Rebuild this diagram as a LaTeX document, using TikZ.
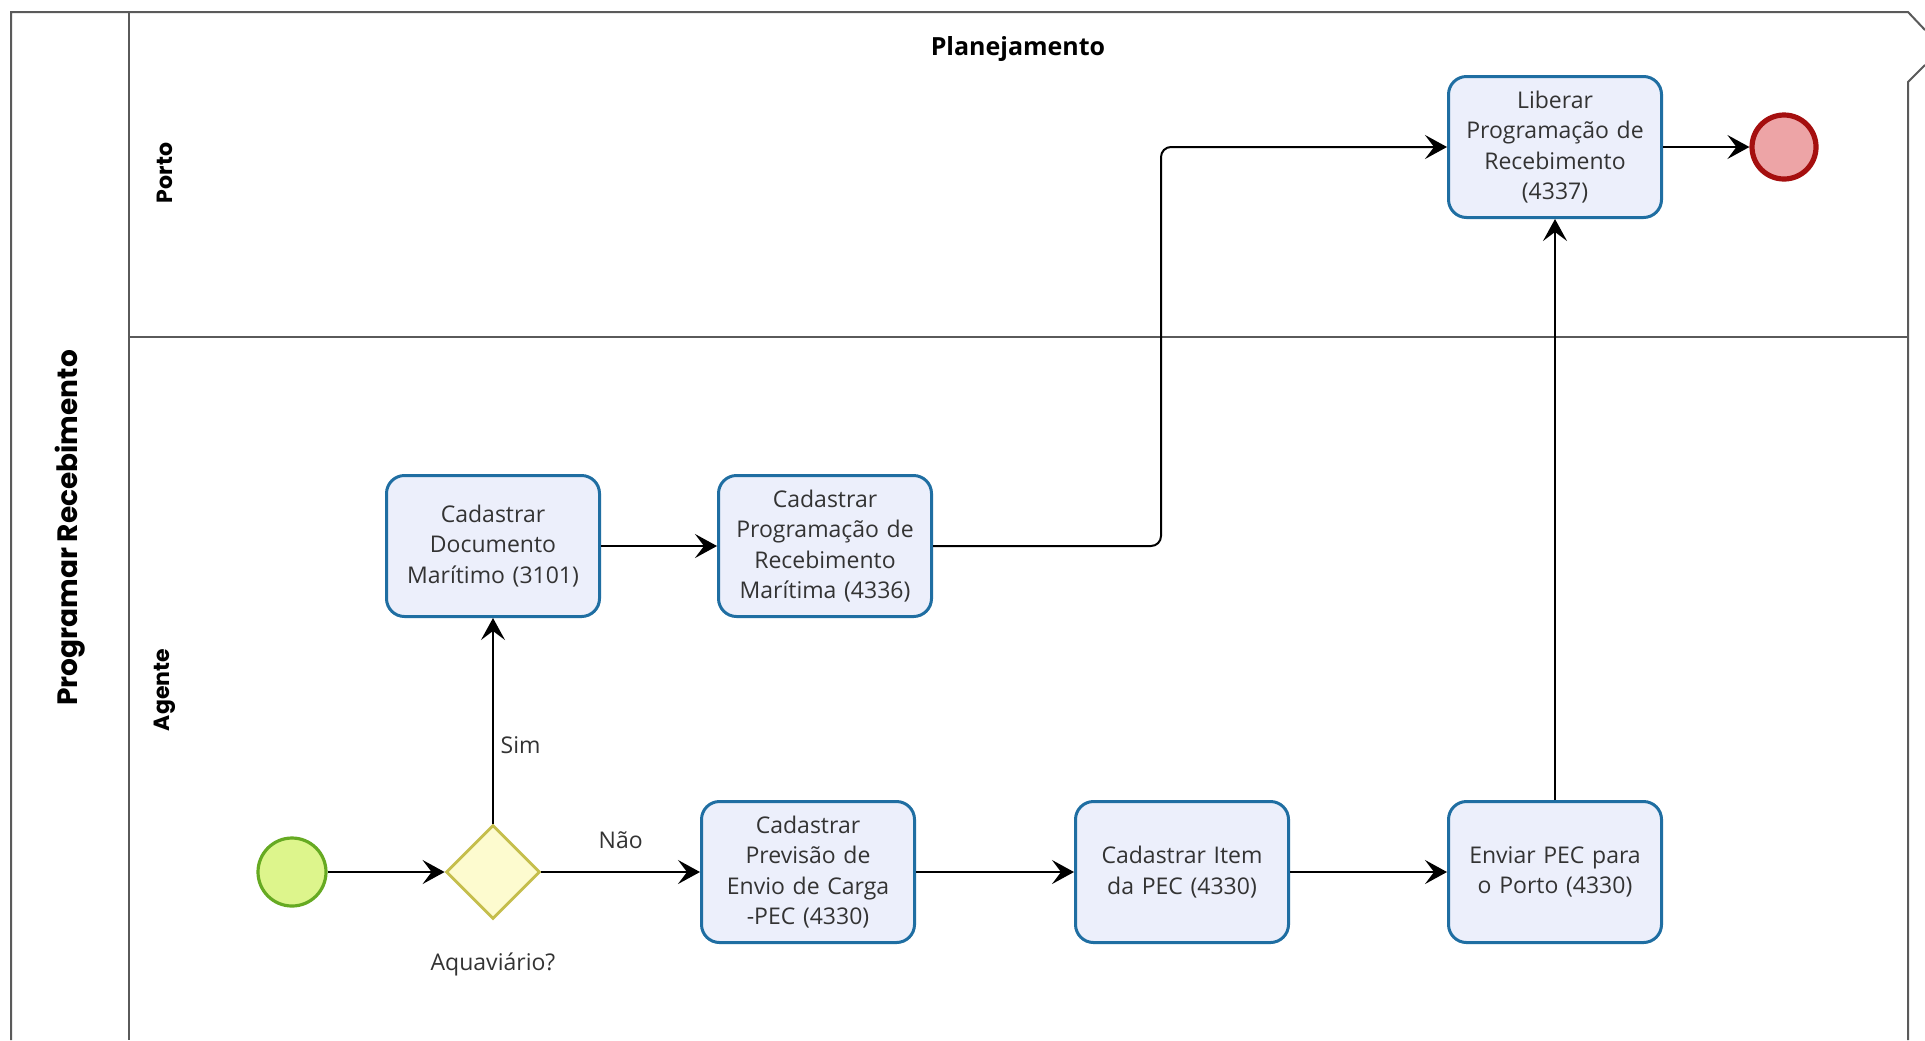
\documentclass[tikz,border=0pt]{standalone}
\usepackage{fontspec}
\setmainfont{Open Sans}
\newfontfamily\popfont{Poppins}
\usetikzlibrary{shapes.geometric,arrows.meta,calc}
\definecolor{taskfill}{HTML}{ECEFFB}
\definecolor{taskdraw}{HTML}{1F6EA2}
\definecolor{txt}{HTML}{333333}
\definecolor{poolline}{HTML}{5A5A5A}
\definecolor{startfill}{HTML}{DDF58C}
\definecolor{startdraw}{HTML}{66AA22}
\definecolor{endfill}{HTML}{EDA4A6}
\definecolor{enddraw}{HTML}{A50F0F}
\definecolor{gwfill}{HTML}{FDFBCF}
\definecolor{gwdraw}{HTML}{C5BE4C}
\begin{document}
\begin{tikzpicture}[x=0.5pt,y=-0.5pt,
 task/.style={draw=taskdraw,fill=taskfill,line width=1.5pt,rounded corners=9pt,minimum width=106.5pt,minimum height=70.5pt,inner sep=0pt,align=center,text width=100pt,text=txt,font=\fontsize{11.5}{15.3}\selectfont},
 flow/.style={-{Stealth[length=11pt,width=12pt,inset=4.5pt]},line width=1pt,black},
 lbl/.style={text=txt,font=\fontsize{11.5}{15.3}\selectfont},
 pool/.style={draw=poolline,line width=1pt},
 lanelbl/.style={rotate=90,font=\popfont\bfseries\fontsize{11}{13}\selectfont},
]
\useasboundingbox[fill=white] (0,0) rectangle (1925,1040);

% pool and lanes
\draw[pool] (11,1040) -- (11,12) -- (1908,12) -- (1925,30);
\draw[pool] (1925,65) -- (1908,82) -- (1908,1040);
\draw[pool] (129,12) -- (129,1040);
\draw[pool] (129,337) -- (1908,337);

\node[rotate=90,font=\popfont\bfseries\fontsize{14}{16}\selectfont] (pooltitle) at (70,528) {Programar Recebimento};
\node[lanelbl] (porto) at (165,173) {Porto};
\node[lanelbl] (agente) at (165,690) {Agente};
\node[font=\bfseries\fontsize{12.5}{15}\selectfont] (plan) at (1018,49) {Planejamento};

% nodes
\node[circle,draw=startdraw,fill=startfill,line width=1.6pt,minimum size=34pt,inner sep=0pt] (start) at (292,872) {};
\node[diamond,draw=gwdraw,fill=gwfill,line width=1.4pt,minimum width=47pt,minimum height=47pt,inner sep=0pt] (gw) at (493,872) {};
\node[lbl] (gwlabel) at (493,964) {Aquaviário?};

\node[task] (t1) at (493,546) {Cadastrar\\Documento\\Marítimo (3101)};
\node[task] (t2) at (825,546) {Cadastrar\\Programação de\\Recebimento\\Marítima (4336)};
\node[task] (t3) at (808,872) {Cadastrar\\Previsão de\\Envio de Carga\\-PEC (4330)};
\node[task] (t4) at (1182,872) {Cadastrar Item\\da PEC (4330)};
\node[task] (t5) at (1555,872) {Enviar PEC para\\o Porto (4330)};
\node[task] (t6) at (1555,147) {Liberar\\Programação de\\Recebimento\\(4337)};
\node[circle,draw=enddraw,fill=endfill,line width=2.6pt,minimum size=32pt,inner sep=0pt] (end) at (1784,147) {};

\coordinate (bend) at (1161,147);

% flows
\draw[flow] (start) -- (gw);
\draw[flow] (gw) -- node[lbl,above=8pt] (naolbl) {Não} (t3);
\draw[flow] (gw) -- node[lbl,right,pos=0.38] (simlbl) {Sim} (t1);
\draw[flow] (t1) -- (t2);
\draw[flow,rounded corners=5pt] (t2.east) -| (bend) -- (t6.west);
\draw[flow] (t3) -- (t4);
\draw[flow] (t4) -- (t5);
\draw[flow] (t5) -- (t6);
\draw[flow] (t6) -- (end);
\end{tikzpicture}
\end{document}
